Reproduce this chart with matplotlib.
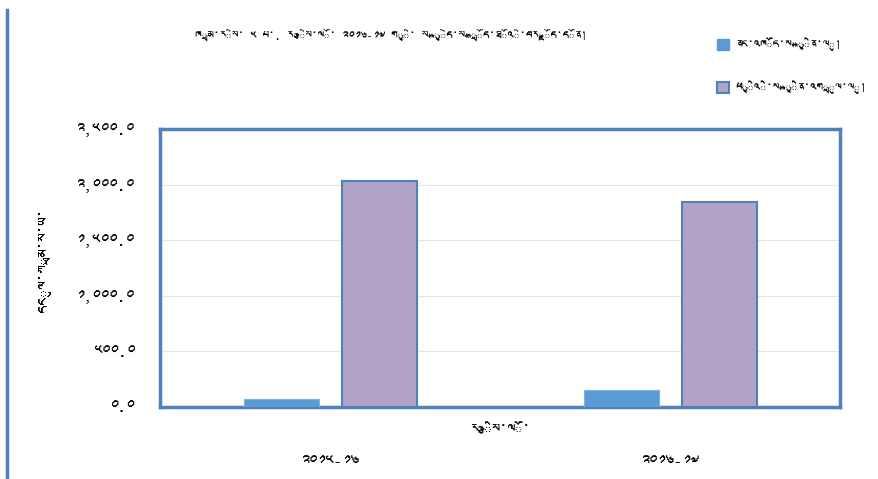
import matplotlib
matplotlib.use("Agg")
import matplotlib.pyplot as plt
from matplotlib import font_manager
from matplotlib.ft2font import FT2Font
from matplotlib.patches import Patch
import numpy as np

## data
years = ['༢༠༡༥-༡༦', '༢༠༡༦-༡༧']
domestic = [72, 153]
external = [2035, 1845]
series_names = ['ནང་འཁོད་སྐྱིན་ལུ།', 'ཕྱིའི་སྐྱིན་འགྲུལ་ལུ།']
yticks = [0, 500, 1000, 1500, 2000, 2500]
title = 'ཁྲམ་རིས་ ༥ པ་. རྩིས་ལོ་ ༢༠༡༦-༡༧ གྱི་ སྐྱེད་སྒྲོད་ཐོའི་བརྗོད་དོན།'
xlabel = 'རྩིས་ལོ་'
ylabel = 'དངུལ་ཀྲམ་ས་ཡ་'

## look for a font that has tibetan letters
tib_font = None
for path in font_manager.findSystemFonts():
    try:
        if 0x0F40 in FT2Font(path).get_charmap():
            tib_font = path
            break
    except Exception:
        pass
if tib_font:
    font_manager.fontManager.addfont(tib_font)
    fam = [font_manager.FontProperties(fname=tib_font).get_name(), 'DejaVu Sans']
else:
    fam = ['DejaVu Sans']
plt.rcParams['font.family'] = fam

tib_digits = str.maketrans('0123456789', '༠༡༢༣༤༥༦༧༨༩')

blue = '#5B9BD5'
purple = '#B1A2C8'
frame = '#4F81BD'

fig = plt.figure(figsize=(8.79, 4.79), dpi=100)
ax = fig.add_axes([160/879, 1-407/479, 680/879, 278/479])

x = np.arange(len(years))
ax.bar(x - 0.142, domestic, width=0.22, color=blue, edgecolor='#7FB2E0', linewidth=0.8, zorder=3)
ax.bar(x + 0.146, external, width=0.22, color=purple, edgecolor=frame, linewidth=1.5, zorder=3)

ax.set_xlim(-0.5, 1.5)
ax.set_ylim(0, 2500)
ax.set_yticks(yticks)
ax.set_yticklabels([format(v, ',.1f').translate(tib_digits) for v in yticks], fontsize=12)
ax.set_xticks(x)
ax.set_xticklabels(years, fontsize=12)
ax.tick_params(axis='y', length=0, pad=18)
ax.tick_params(axis='x', length=0, pad=35)
ax.yaxis.grid(True, color='#E6E6E6', linewidth=0.8, zorder=0)
for s in ax.spines.values():
    s.set_color(frame)
    s.set_linewidth(2.5)

ax.text(0.5, -0.085, xlabel, transform=ax.transAxes, ha='center', va='center', fontsize=11)
fig.text(45/879, 1-260/479, ylabel, rotation=90, ha='center', va='center', fontsize=11.5)
fig.text(195/879, 1-35/479, title, ha='left', va='center', fontsize=8.8)

handles = [Patch(facecolor=blue, edgecolor=blue), Patch(facecolor=purple, edgecolor=frame, linewidth=1.5)]
fig.legend(handles, series_names, loc='upper left', bbox_to_anchor=(706/879, 1-26/479),
           frameon=False, fontsize=9, handlelength=0.95, handleheight=0.95,
           handletextpad=0.5, labelspacing=2.4)

## left border of the chart area
fig.add_artist(plt.Line2D([7/879, 7/879], [0, 1-10/479], color=frame, linewidth=2.5))

plt.savefig("out.png", dpi=100)
